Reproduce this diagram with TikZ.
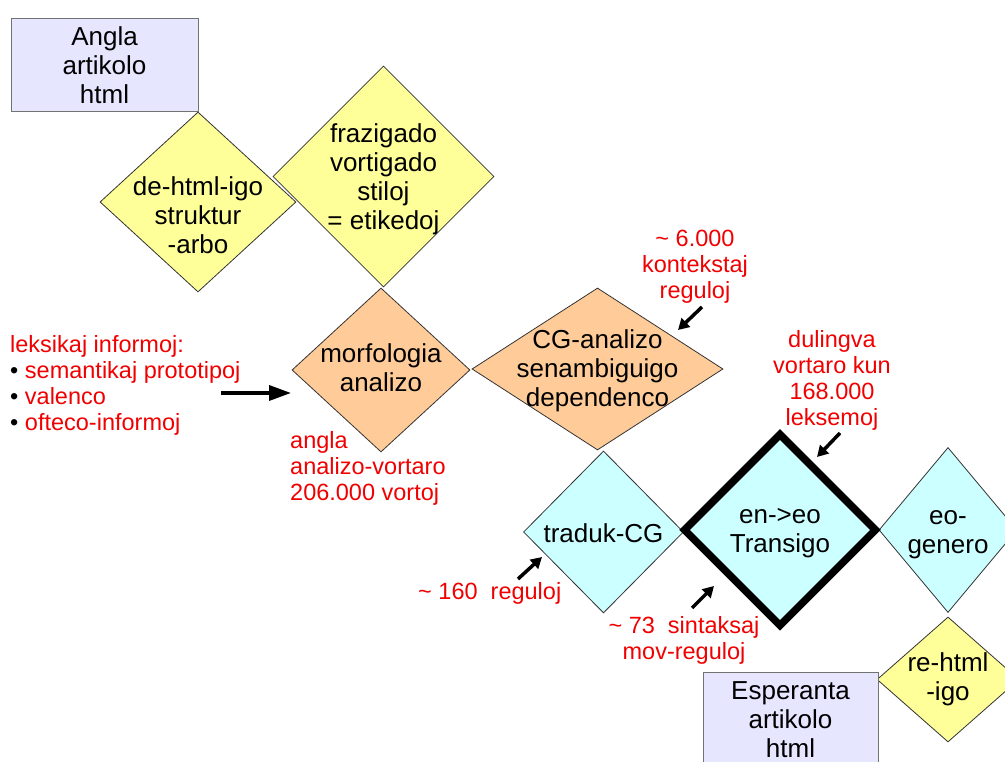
\documentclass[tikz,border=0pt]{standalone}
\usepackage{fontspec}
\setmainfont{Liberation Sans}
\usetikzlibrary{shapes.geometric,arrows.meta}
\definecolor{yel}{HTML}{FFFF99}
\definecolor{ora}{HTML}{FFCC99}
\definecolor{cya}{HTML}{CCFFFF}
\definecolor{lav}{HTML}{E6E6FF}
\definecolor{annot}{HTML}{F00000}
\begin{document}
\begin{tikzpicture}[x=1pt,y=1pt,
    dia/.style={diamond,draw=black!80,line width=0.8pt,inner sep=0pt},
    box/.style={rectangle,draw=black!55,line width=1pt,fill=lav,inner sep=0pt,
      align=center,font=\fontsize{26}{29}\selectfont},
    txt/.style={align=center,inner sep=0pt,font=\fontsize{26}{29}\selectfont},
    note/.style={text=annot,inner sep=0pt,font=\fontsize{23.5}{26}\selectfont},
    arr/.style={line width=3.5pt,-{Triangle[length=11pt,width=12pt]}}
  ]
  \useasboundingbox (0,0) rectangle (1005,762);
  \node[box,minimum width=187pt,minimum height=93pt] (en) at (104.5,696.5) {Angla\\artikolo\\html};
  \foreach \n/\x/\y/\w/\h/\c/\dy/\t in {
      dehtml/198/560/196/180/yel/-13/{de-html-igo\\struktur\\-arbo},
      fraz/383.5/585.5/221/221/yel/-3/{frazigado\\vortigado\\stiloj\\= etikedoj},
      morf/381/392/178/164/ora/2/{morfologia\\analizo},
      cg/597.5/393/251/162/ora/-2/{CG-analizo\\senambiguigo\\dependenco},
      trad/603.5/230/160/162/cya/-1/{traduk-CG},
      gen/948/232/138/165/cya/-5/{eo-\\genero},
      rehtml/948/82.5/142/125/yel/0/{re-html\\-igo}} {
    \node[dia,fill=\c,minimum width=\w pt,minimum height=\h pt] (\n) at (\x,\y) {};
    \node[txt] (\n-t) at (\x,\y+\dy) {\t};
  }
  \node[dia,fill=cya,draw=black,line width=7.5pt,minimum width=194pt,minimum height=194pt] (trans) at (780,232) {};
  \node[txt] (trans-t) at (780,228.5) {en->eo\\Transigo};
  \node[box,minimum width=175pt,minimum height=93pt] (eo) at (790.5,42.5) {Esperanta\\artikolo\\html};

  \node[note,anchor=north west,align=left] (lex) at (10,426.7)
    {leksikaj informoj:\\\textcolor{black}{•} semantikaj prototipoj\\\textcolor{black}{•} valenco\\\textcolor{black}{•} ofteco-informoj};
  \node[note,anchor=north west,align=left] (vort) at (290,330.5) {angla\\analizo-vortaro\\206.000 vortoj};
  \node[note,anchor=north,align=center] (kont) at (695,532.3) {\textasciitilde\ 6.000\\kontekstaj\\reguloj};
  \node[note,anchor=north,align=center] (dul) at (832,431.5) {dulingva\\vortaro kun\\168.000\\leksemoj};
  \node[note,anchor=base west] (reg) at (418,162) {\textasciitilde\ 160\ \ reguloj};
  \node[note,anchor=north,align=center] (sint) at (684,145.5) {\textasciitilde\ 73\ \ sintaksaj\\mov-reguloj};

  \coordinate (lex-a) at (221,369);  \coordinate (morf-a) at (291,369);
  \coordinate (kont-a) at (702,455); \coordinate (cg-a) at (678,432);
  \coordinate (dul-a) at (840,329);  \coordinate (trans-a) at (817,305);
  \coordinate (reg-a) at (518,183);  \coordinate (trad-a) at (542,205);
  \coordinate (sint-a) at (692,154); \coordinate (trans-b) at (714,176);
  \draw[line width=3.5pt,-{Triangle[length=22pt,width=15pt]}] (lex-a) -- (morf-a);
  \draw[arr] (kont-a) -- (cg-a);
  \draw[arr] (dul-a) -- (trans-a);
  \draw[arr] (reg-a) -- (trad-a);
  \draw[arr] (sint-a) -- (trans-b);
\end{tikzpicture}
\end{document}
